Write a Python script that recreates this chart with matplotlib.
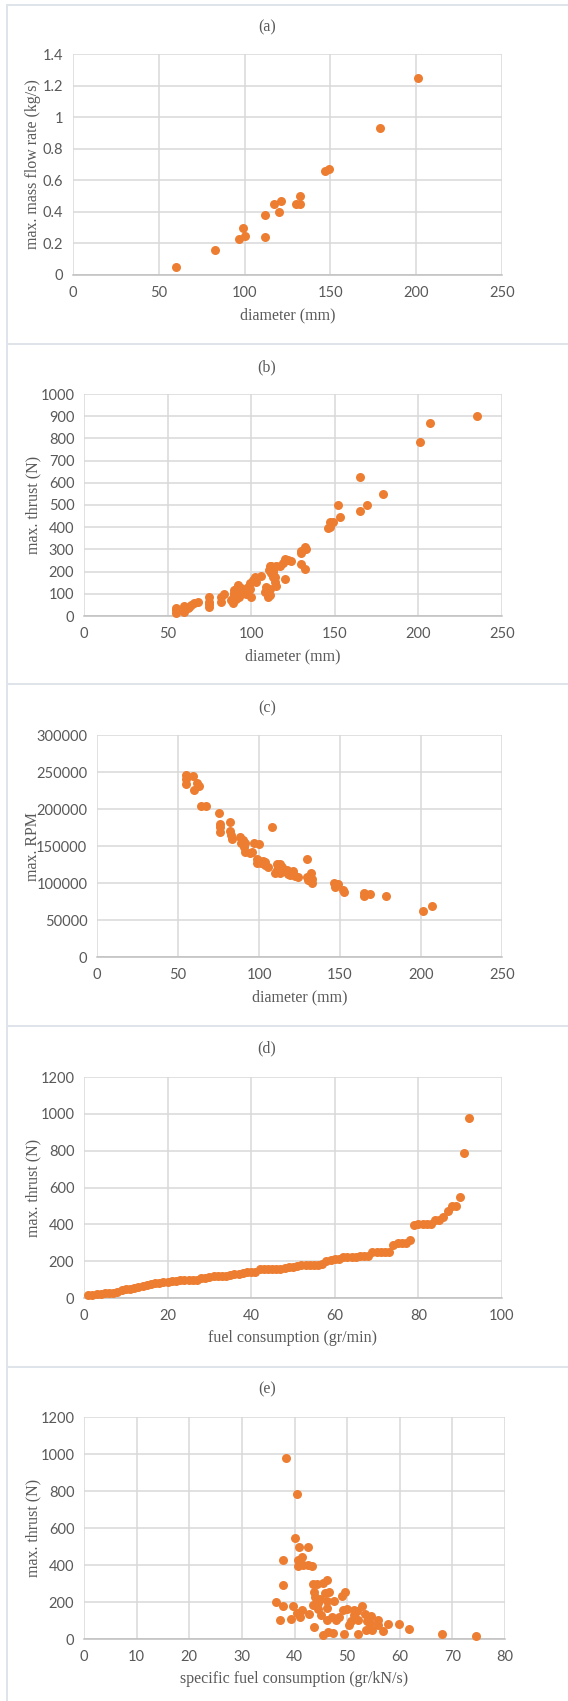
import matplotlib.pyplot as plt
from matplotlib.lines import Line2D
from matplotlib.ticker import FuncFormatter
import numpy as np

# (a) max. mass flow rate vs diameter
diam_a = [60, 83, 97, 99, 100, 112, 112, 117, 120, 121, 130, 132, 132, 147, 149, 179, 201]
flow_a = [0.05, 0.16, 0.23, 0.30, 0.25, 0.38, 0.24, 0.45, 0.40, 0.47, 0.45, 0.45, 0.50, 0.66, 0.67, 0.93, 1.25]

# (b) max. thrust vs diameter
diam_b = [55, 55, 55, 60, 60, 62, 63, 64, 66, 68, 75, 75, 75, 75, 82, 82, 84, 88, 89, 89,
          90, 90, 90, 91, 91, 92, 92, 93, 93, 94, 95, 96, 97, 98, 99, 99, 100, 101, 102, 102,
          103, 106, 108, 109, 110, 110.5, 111, 111, 111, 112, 112, 113, 113, 113, 114, 114,
          115, 115, 117, 119, 120, 120, 122, 124, 130, 130, 130, 132, 132, 133, 146, 147, 147,
          149, 152, 153, 165, 165, 169, 179, 201, 207, 235]
thrust_b = [38, 27, 15, 47, 20, 35, 42, 50, 57, 63, 42, 55, 65, 84, 63, 87, 99, 71, 57, 80,
            93, 102, 116, 120, 75, 132, 138, 87, 123, 125, 108, 117, 101, 132, 147, 120, 87, 160, 162, 177,
            155, 180, 107, 132, 87, 208, 223, 95, 123, 193, 227, 175, 197, 208, 155, 175,
            137, 223, 226, 238, 257, 167, 250, 248, 232, 295, 286, 210, 313, 301, 395, 425, 403,
            425, 500, 444, 624, 471, 500, 549, 783, 869, 901]

# (c) max. RPM vs diameter
diam_c = [55, 55, 55, 59, 60, 62, 63, 64.5, 67.5, 75, 76, 76, 76, 82, 82, 82.5, 83.5,
          88.5, 89, 90, 90.5, 91.5, 91.5, 94.5, 95.5, 97, 100, 98.5, 98.5, 100, 101.5, 102.5,
          103.5, 104, 105.5, 108, 110, 111, 111, 112, 113, 113, 114, 115.5, 117, 118, 119, 121,
          121, 122, 124, 129.5, 129.5, 130.5, 132, 132.5, 132.5, 146, 147, 148.5, 152, 152.5,
          165, 165, 168.5, 178.5, 201, 207]
rpm_c = [246000, 240000, 234000, 245000, 225000, 235000, 231000, 204000, 204000, 195000,
         180000, 175000, 169000, 182000, 170000, 165000, 159000,
         162000, 154000, 158000, 149000, 154000, 142500, 141000, 142500, 154000, 152500, 132000,
         127000, 130000, 127000, 130000, 124000, 128000, 121000, 175000, 114000, 126000, 118000,
         120000, 125000, 113000, 122000, 116000, 118000, 112000, 110500, 116000, 112000, 110000,
         107500, 132000, 108000, 104000, 113000, 105500, 100000, 100500, 95000, 99000, 90500, 88000,
         86000, 82500, 85000, 82500, 61500, 69000]

# (d) max. thrust vs fuel consumption
fuel_d = [1, 2, 3, 4, 5, 6, 7, 8, 9, 10, 11, 12, 13, 14, 15, 16, 17, 18, 19, 20,
          21, 22, 23, 24, 25, 26, 27, 28, 29, 30, 31, 32, 33, 34, 35, 36, 37, 38, 39, 40,
          41, 42, 43, 44, 45, 46, 47, 48, 49, 50, 51, 52, 53, 54, 55, 56, 57, 58, 59, 60,
          61, 62, 63, 64, 65, 66, 67, 68, 69, 70, 71, 72, 73, 74, 75, 76, 77, 78, 79, 80,
          81, 82, 83, 84, 85, 86, 87, 88, 89, 90, 91, 92]
thrust_d = [15, 18, 20, 22, 25, 25, 28, 30, 45, 48, 50, 55, 62, 65, 70, 75, 80, 82, 85, 88,
            90, 92, 98, 100, 100, 100, 100, 108, 110, 112, 118, 120, 120, 120, 125, 130, 130, 135, 140, 140,
            140, 155, 160, 160, 160, 160, 160, 165, 170, 170, 175, 180, 180, 180, 180, 180, 185, 200, 205, 210,
            210, 220, 220, 220, 220, 230, 230, 230, 250, 250, 250, 250, 250, 290, 300, 300, 300, 315, 395, 400,
            400, 400, 400, 425, 425, 440, 470, 500, 500, 550, 785, 980]

# (e) max. thrust vs specific fuel consumption
sfc_e = [38.4, 40.4, 40.0, 40.9, 42.6, 37.9, 40.7, 41.5, 40.7, 41.7, 42.6, 43.4, 37.9, 36.5,
         37.9, 37.2, 39.8, 39.3, 40.4, 41.0, 41.5, 42.8, 43.6, 44.2, 43.8, 43.9, 43.6, 44.5,
         44.8, 44.5, 45.1, 43.7, 45.5, 46.1, 45.8, 46.6, 46.2, 46.1, 45.5, 46.4, 47.4, 46.1,
         47.1, 47.6, 47.9, 48.5, 49.1, 49.6, 49.3, 49.9, 49.4, 50.4, 50.8, 51.3, 51.3, 51.9,
         52.1, 52.0, 52.8, 53.4, 53.6, 53.7, 54.5, 54.3, 54.8, 55.9, 55.9, 56.8, 57.8, 59.9,
         61.7, 68.0, 74.5]
thrust_e = [977, 786, 548, 499, 499, 427, 425, 441, 396, 402, 402, 393, 290, 202,
            180, 101, 180, 110, 141, 119, 159, 135, 299, 299, 252, 225, 182, 195,
            216, 164, 132, 63, 303, 317, 249, 252, 204, 168, 23, 36, 31, 101,
            119, 207, 101, 119, 231, 252, 159, 164, 27, 74, 95, 159, 132, 150,
            101, 27, 177, 135, 50, 95, 123, 86, 47, 101, 74, 45, 83, 83,
            54, 29, 16]

W, H = 568, 1701
ORANGE = '#ED7D31'
GRID = '#d9d9d9'
TXT = '#595959'
SERIF = ['Liberation Serif', 'DejaVu Serif']
SANS = ['Lato', 'DejaVu Sans']

fig = plt.figure(figsize=(W / 100, H / 100), dpi=100)
fig.patch.set_facecolor('white')

# panel frames (excel chart borders)
frame_col = '#dfe4ea'
for yb in [5, 344, 684, 1026, 1367]:
    fig.add_artist(Line2D([6.5 / W, 1], [1 - yb / H, 1 - yb / H], color=frame_col, lw=1.4))
fig.add_artist(Line2D([6.5 / W, 6.5 / W], [1 - 5 / H, 0], color=frame_col, lw=1.4))

panels = [
    dict(x=diam_a, y=flow_a, box=(73, 502, 54, 275), title='(a)', ty=27,
         xl='diameter (mm)', yl='max. mass flow rate (kg/s)', xlim=(0, 250), xt=50,
         ylim=(0, 1.4), yt=0.2),
    dict(x=diam_b, y=thrust_b, box=(84, 502, 394, 616), title='(b)', ty=367,
         xl='diameter (mm)', yl='max. thrust (N)', xlim=(0, 250), xt=50,
         ylim=(0, 1000), yt=100),
    dict(x=diam_c, y=rpm_c, box=(97, 502, 735, 957), title='(c)', ty=708,
         xl='diameter (mm)', yl='max. RPM', xlim=(0, 250), xt=50,
         ylim=(0, 300000), yt=50000),
    dict(x=fuel_d, y=thrust_d, box=(84, 502, 1077, 1298), title='(d)', ty=1048,
         xl='fuel consumption (gr/min)', yl='max. thrust (N)', xlim=(0, 100), xt=20,
         ylim=(0, 1200), yt=200),
    dict(x=sfc_e, y=thrust_e, box=(84, 505, 1417, 1639), title='(e)', ty=1389,
         xl='specific fuel consumption (gr/kN/s)', yl='max. thrust (N)', xlim=(0, 80), xt=10,
         ylim=(0, 1200), yt=200),
]

for p in panels:
    l, r, t, b = p['box']
    ax = fig.add_axes([l / W, 1 - b / H, (r - l) / W, (b - t) / H])
    ax.scatter(p['x'], p['y'], s=42, color=ORANGE, linewidths=0, zorder=3, clip_on=False)
    ax.set_xlim(*p['xlim'])
    ax.set_ylim(*p['ylim'])
    ax.set_xticks(np.arange(p['xlim'][0], p['xlim'][1] + p['xt'] / 2, p['xt']))
    ax.set_yticks(np.arange(p['ylim'][0], p['ylim'][1] + p['yt'] / 2, p['yt']))
    ax.yaxis.set_major_formatter(FuncFormatter(lambda v, pos: '%g' % round(v, 6)))
    ax.xaxis.set_major_formatter(FuncFormatter(lambda v, pos: '%g' % round(v, 6)))
    ax.grid(True, color=GRID, lw=1.1, zorder=0)
    ax.set_axisbelow(True)
    for s in ['top', 'right', 'left']:
        ax.spines[s].set_visible(False)
    ax.spines['bottom'].set_color('#bfbfbf')
    ax.spines['bottom'].set_linewidth(1.1)
    ax.tick_params(length=0, labelsize=10.5, labelcolor=TXT)
    ax.tick_params(axis='x', pad=8)
    ax.tick_params(axis='y', pad=7)
    for lab in ax.get_xticklabels() + ax.get_yticklabels():
        lab.set_family(SANS)
    fig.text(267 / W, 1 - p['ty'] / H, p['title'], ha='center', va='center',
             fontsize=11.5, color=TXT, family=SERIF)
    xl_y = b + 40
    fig.text((l + r) / 2 / W, 1 - xl_y / H, p['xl'], ha='center', va='center',
             fontsize=11.5, color=TXT, family=SERIF)
    fig.text(33 / W, 1 - (t + b) / 2 / H, p['yl'], ha='center', va='center', rotation=90,
             fontsize=11.5, color=TXT, family=SERIF)

fig.savefig('out.png', dpi=100)
